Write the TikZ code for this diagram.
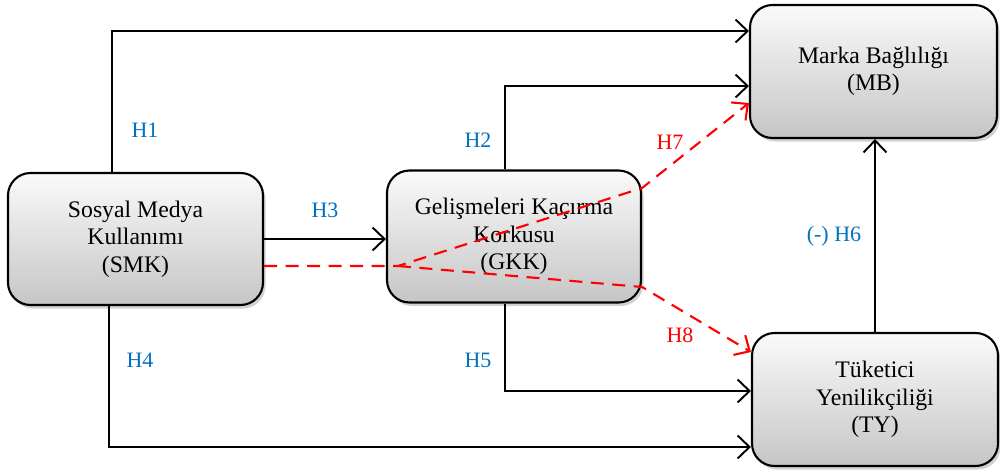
\documentclass[tikz,border=0pt]{standalone}
\usepackage{fontspec}
\setmainfont{Liberation Serif}
\usetikzlibrary{arrows.meta,shadows}

\definecolor{hblue}{RGB}{0,112,192}

\begin{document}
\begin{tikzpicture} [scale = 1,
  box/.style = {draw, line width=1.2pt, rounded corners=0.45cm, align=center,
    top color=white!96!gray, bottom color=gray!45,
    drop shadow={shadow xshift=0.05cm, shadow yshift=-0.07cm, fill=gray!70},
    font=\fontsize{13.5}{15.6}\selectfont, minimum height=2.64cm},
  conn/.style = {line width=1.1pt, -{Straight Barb[length=2.4mm,width=4.6mm]}},
  redconn/.style = {line width=1.2pt, red, dash pattern=on 2.6mm off 1.7mm,
    -{Straight Barb[length=2.4mm,width=4.6mm]}},
  hyp/.style = {text=hblue, font=\fontsize{12.5}{14}\selectfont},
  hypred/.style = {text=red, font=\fontsize{12.5}{14}\selectfont}]
\useasboundingbox (0.0, 0.0) rectangle (20.0, 9.4);

% the four constructs
\node[box, minimum width=5.1cm] (smk) at (2.71, 4.62) {Sosyal Medya\\Kullanımı\\(SMK)};
\node[box, minimum width=5.08cm] (gkk) at (10.28, 4.67) {Gelişmeleri Kaçırma\\Korkusu\\(GKK)};
\node[box, minimum width=4.94cm, minimum height=2.66cm] (mb) at (17.47, 7.97) {Marka Bağlılığı\\(MB)};
\node[box, minimum width=4.92cm, minimum height=2.66cm] (ty) at (17.5, 1.41) {Tüketici\\Yenilikçiliği\\(TY)};

% direct paths
\draw[conn] ([xshift=2.1cm]smk.north west) |- ([yshift=0.81cm]mb.west);
\draw[conn] ([xshift=-0.18cm]gkk.north) |- ([yshift=-0.29cm]mb.west);
\draw[conn] (smk.east) -- (smk.east -| gkk.west);
\draw[conn] ([xshift=-0.18cm]gkk.south) |- ([yshift=0.17cm]ty.west);
\draw[conn] ([xshift=2.04cm]smk.north west |- smk.south) |- ([yshift=-0.95cm]ty.west);
\draw[conn] (ty.north) -- (ty.north |- mb.south);

% mediated paths through GKK
\coordinate (split) at (7.96, 4.08);
\draw[redconn] ([yshift=-0.54cm]smk.east) -- (split) -- ([yshift=0.97cm]gkk.east) -- ([yshift=-0.63cm]mb.west);
\draw[redconn] (split) -- ([yshift=-1.01cm]gkk.east) -- ([yshift=0.95cm]ty.west);

% hypotheses
\node[hyp] (h1) at (2.9, 6.8) {H1};
\node[hyp] (h2) at (9.56, 6.6) {H2};
\node[hyp] (h3) at (6.5, 5.2) {H3};
\node[hyp] (h4) at (2.8, 2.2) {H4};
\node[hyp] (h5) at (9.56, 2.2) {H5};
\node[hyp] (h6) at (16.68, 4.68) {(-) H6};
\node[hypred] (h7) at (13.4, 6.56) {H7};
\node[hypred] (h8) at (13.6, 2.7) {H8};
\end{tikzpicture}
\end{document}
